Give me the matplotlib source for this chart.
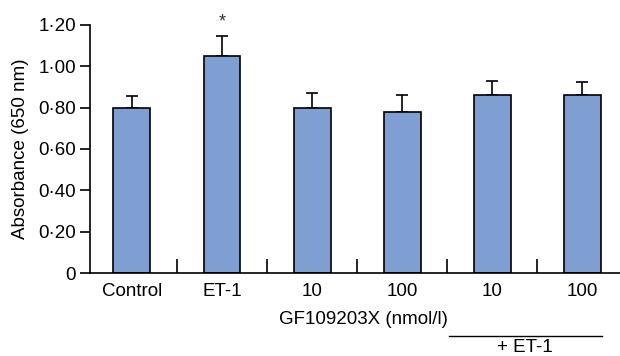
import numpy as np
import matplotlib.pyplot as plt

plt.rcParams['font.family'] = ['Liberation Sans', 'DejaVu Sans']

categories = ['Control', 'ET-1', '10', '100', '10', '100']
means = [0.80, 1.05, 0.80, 0.78, 0.86, 0.86]
errors = [0.055, 0.095, 0.07, 0.08, 0.07, 0.065]
yticks = [0, 0.2, 0.4, 0.6, 0.8, 1.0, 1.2]
ytick_labels = ['0', '0·20', '0·40', '0·60', '0·80', '1·00', '1·20']

fig = plt.figure(figsize=(6.2, 3.56), dpi=100)
ax = fig.add_axes([0.145, 0.233, 0.855, 0.697])

x = np.arange(len(categories))
ax.bar(x, means, width=0.41, color='#7f9fd3', edgecolor='black', linewidth=1.2, zorder=2)
ax.errorbar(x, means, yerr=[np.zeros(len(means)), errors], fmt='none',
            ecolor='black', elinewidth=1.2, capsize=4.5, capthick=1.2, zorder=1)

# significance marker
ax.text(x[1], means[1] + errors[1] + 0.07, '*', ha='center', va='center',
        fontsize=13, color='#333333')

ax.set_xlim(-0.467, 5.42)
ax.set_ylim(0, 1.2)
ax.set_yticks(yticks)
ax.set_yticklabels(ytick_labels, fontsize=13.5)
ax.set_xticks(x)
ax.set_xticklabels(categories, fontsize=13.5)
ax.tick_params(axis='x', length=0, pad=7)
ax.tick_params(axis='y', length=7, width=1.2, pad=3)
ax.set_xticks(x[:-1] + 0.5, minor=True)
ax.tick_params(axis='x', which='minor', direction='in', length=10, width=1.2)

for s in ['top', 'right']:
    ax.spines[s].set_visible(False)
for s in ['left', 'bottom']:
    ax.spines[s].set_linewidth(1.2)

ax.set_ylabel('Absorbance (650 nm)', fontsize=13.5, labelpad=7)
fig.text(0.586, 1 - 320 / 356, 'GF109203X (nmol/l)', ha='center', va='center', fontsize=13.5)
fig.add_artist(plt.Line2D([449 / 620, 602 / 620], [1 - 336 / 356, 1 - 336 / 356],
                          color='black', linewidth=1.0))
fig.text(525 / 620, 1 - 348 / 356, '+ ET-1', ha='center', va='center', fontsize=13.5)

fig.savefig('out.png', dpi=100)
